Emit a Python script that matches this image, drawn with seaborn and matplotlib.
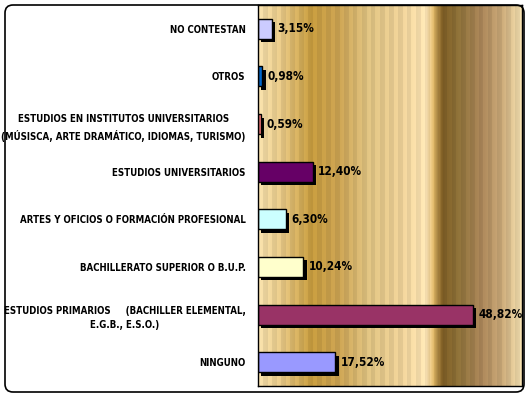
import numpy as np
import pandas as pd
import matplotlib
matplotlib.use("Agg")
import matplotlib.pyplot as plt
import matplotlib.patheffects as pe
from matplotlib.patches import FancyBboxPatch
from matplotlib.colors import LinearSegmentedColormap
import seaborn as sns

categories = [
    "NO CONTESTAN",
    "OTROS",
    "ESTUDIOS EN INSTITUTOS UNIVERSITARIOS\n(MÚSISCA, ARTE DRAMÁTICO, IDIOMAS, TURISMO)",
    "ESTUDIOS UNIVERSITARIOS",
    "ARTES Y OFICIOS O FORMACIÓN PROFESIONAL",
    "BACHILLERATO SUPERIOR O B.U.P.",
    "ESTUDIOS PRIMARIOS     (BACHILLER ELEMENTAL,\nE.G.B., E.S.O.)",
    "NINGUNO",
]
values = [3.15, 0.98, 0.59, 12.40, 6.30, 10.24, 48.82, 17.52]
value_labels = ["3,15%", "0,98%", "0,59%", "12,40%", "6,30%", "10,24%", "48,82%", "17,52%"]
bar_colors = ["#ccccff", "#0066cc", "#ff8080", "#660066", "#ccffff", "#ffffcc", "#993366", "#9999ff"]

df = pd.DataFrame({"cat": categories, "val": values})

sns.set_style("white")
plt.rcParams["font.family"] = ["DejaVu Sans"]

fig = plt.figure(figsize=(5.29, 3.94), dpi=100)
ax = fig.add_axes([258 / 529, 1 - 386 / 394, (522 - 258) / 529, (386 - 5) / 394])

xmax = 60.0
# golden gradient background with subtle vertical stripes
stops = [
    (0.00, "#f2dca8"), (0.08, "#e6c888"), (0.20, "#c49a3e"), (0.30, "#c8a050"),
    (0.42, "#dcc080"), (0.55, "#ecd098"), (0.64, "#fce4b4"), (0.67, "#d8b060"),
    (0.70, "#7c5c24"), (0.76, "#8c7038"), (0.85, "#a88458"), (0.93, "#c8a878"),
    (1.00, "#f0dcac"),
]
cmap = LinearSegmentedColormap.from_list("gold", stops)
n = 264
t = np.linspace(0, 1, n)
rgb = cmap(t)[:, :3]
stripe = 1.0 + 0.035 * np.sign(np.sin(np.arange(n) * 2 * np.pi / 9.0))
rgb = np.clip(rgb * stripe[:, None], 0, 1)
ax.imshow(rgb.reshape(1, n, 3), extent=(0, xmax, 7.5, -0.5), aspect="auto",
          interpolation="nearest", zorder=0)

sns.barplot(data=df, y="cat", x="val", hue="cat", palette=bar_colors, legend=False,
            orient="h", width=0.42, saturation=1, edgecolor="black", linewidth=1.0,
            ax=ax, zorder=2)

for p in ax.patches:
    p.set_path_effects([pe.SimplePatchShadow(offset=(2.5, -2.5), shadow_rgbFace="black", alpha=1.0),
                        pe.Normal()])

for i, (v, lab) in enumerate(zip(values, value_labels)):
    ax.annotate(lab, xy=(v, i), xytext=(4, 0), textcoords="offset points",
                ha="left", va="center", fontsize=8.5, fontweight="bold",
                fontstretch="condensed", color="black", zorder=5)

ax.set_xlim(0, xmax)
ax.set_ylim(7.5, -0.5)
ax.set_xlabel("")
ax.set_ylabel("")
ax.set_xticks([])
ax.set_yticks(range(len(categories)))
ax.set_yticklabels(categories, fontsize=6.9, fontweight="bold", fontstretch="condensed",
                   multialignment="center", color="black", linespacing=1.6)
ax.tick_params(axis="y", which="major", length=0, pad=9)
ax.set_yticks(np.arange(-0.5, 8.0, 1.0), minor=True)
ax.tick_params(axis="y", which="minor", length=4, width=1, color="black", direction="out")
for s in ax.spines.values():
    s.set_visible(True)
    s.set_color("black")
    s.set_linewidth(1.0)

border = FancyBboxPatch((0.05, 0.02), 5.19, 3.87,
                        boxstyle="round,pad=0,rounding_size=0.08",
                        transform=fig.dpi_scale_trans, facecolor="none",
                        edgecolor="black", linewidth=1.2, zorder=10)
fig.patches.append(border)

fig.savefig("out.png", dpi=100)
